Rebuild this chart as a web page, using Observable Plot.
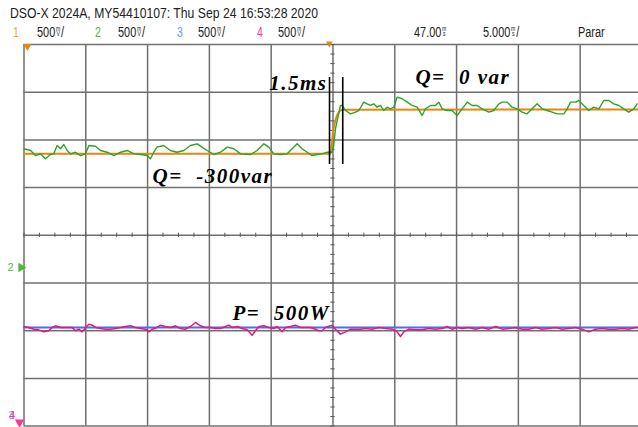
<!DOCTYPE html>
<html><head><meta charset="utf-8">
<script src="https://cdn.jsdelivr.net/npm/d3@7"></script>
<script src="https://cdn.jsdelivr.net/npm/@observablehq/plot@0.6"></script>
<style>
body{margin:0;background:#fff;width:638px;height:427px;overflow:hidden;font-family:"Liberation Sans",Arial,sans-serif;}
#hdr{position:relative;height:40px;width:638px;}
#hdr span.t{position:absolute;white-space:pre;transform-origin:0 0;line-height:1;color:#222;}
.u{display:inline-block;font-size:6.5px;line-height:5.5px;text-align:center;vertical-align:1px;margin:0 1px;}
#chart{display:block;}
</style></head><body>
<div id="hdr"></div>
<div id="chart"></div>
<script>
// ---- header texts ----
const titleText = "DSO-X 2024A, MY54410107: Thu Sep 24 16:53:28 2020";
const channelNames = ["1", "2", "3", "4"];
const channelScales = ["500", "500", "500", "500"];
const channelUnits = [["m", "V"], ["m", "V"], ["m", "V"], ["m", "V"]];
const timeDelay = "47.00";
const timeScale = "5.000";
const runState = "Parar";

// ---- graticule (5 ms/div, 500 mV/div) ----
const timeGrid = [0, 5, 10, 15, 20, 25, 30, 35, 40, 45];
const voltGrid = [-2, -1.5, -1, -0.5, 0, 0.5, 1, 1.5, 2];
const minorTimeTicks = d3.range(0, 49.7, 1.25);
const minorVoltTicks = d3.range(-2, 2.001, 0.1);

// ---- channel 1 (orange, Q reference) ----
const ch1Time = [0, 24.8, 25.02, 25.24, 25.47, 25.77, 49.72];
const ch1Volt = [0.854, 0.854, 1.099, 1.224, 1.29, 1.315, 1.319];

// ---- channel 2 (green, measured Q) ----
const ch2Time = [0, 0.53, 0.93, 1.33, 1.74, 2.14, 2.41, 2.68, 2.95, 3.22, 3.49, 3.76, 4.17, 4.57, 4.98, 5.25, 5.79, 6.19, 6.73, 7.27, 7.81, 8.35, 8.89, 9.43, 9.96, 10.23, 10.5, 10.76, 11.3, 11.84, 12.38, 12.93, 13.47, 14.01, 14.41, 14.82, 15.36, 15.9, 16.44, 16.98, 17.52, 18.33, 18.87, 19.41, 19.81, 20.21, 20.75, 21.29, 21.7, 22.1, 22.5, 22.91, 23.31, 23.72, 24.12, 24.53, 24.93, 25.05, 25.2, 25.61, 25.74, 26.01, 26.42, 26.82, 27.09, 27.49, 27.76, 28.03, 28.3, 28.57, 28.84, 29.11, 29.38, 29.65, 29.92, 30.19, 30.6, 31.0, 31.41, 31.81, 32.21, 32.48, 32.89, 33.29, 33.56, 33.83, 34.24, 34.64, 35.05, 35.45, 35.86, 36.26, 36.66, 37.07, 37.61, 38.01, 38.42, 38.69, 39.09, 39.5, 39.9, 40.31, 40.71, 41.11, 41.52, 41.92, 42.33, 42.73, 43.14, 43.68, 43.95, 44.22, 44.62, 44.89, 45.29, 45.7, 46.1, 46.51, 46.91, 47.32, 47.72, 48.13, 48.53, 48.93, 49.34, 49.61];
const ch2Volt = [0.907, 0.889, 0.836, 0.854, 0.802, 0.847, 0.854, 0.941, 0.907, 0.952, 0.889, 0.854, 0.871, 0.836, 0.854, 0.941, 0.934, 0.889, 0.871, 0.836, 0.871, 0.889, 0.854, 0.847, 0.836, 0.802, 0.871, 0.924, 0.941, 0.889, 0.871, 0.889, 0.941, 0.959, 0.924, 0.889, 0.847, 0.871, 0.924, 0.907, 0.854, 0.847, 0.889, 0.959, 0.924, 0.854, 0.847, 0.854, 0.907, 0.959, 0.907, 0.871, 0.836, 0.847, 0.854, 0.871, 0.871, 0.93, 1.116, 1.361, 1.361, 1.308, 1.273, 1.291, 1.308, 1.396, 1.378, 1.361, 1.378, 1.343, 1.361, 1.308, 1.343, 1.326, 1.343, 1.448, 1.431, 1.396, 1.361, 1.343, 1.256, 1.326, 1.361, 1.361, 1.396, 1.326, 1.308, 1.308, 1.256, 1.326, 1.396, 1.361, 1.361, 1.326, 1.291, 1.308, 1.378, 1.396, 1.396, 1.343, 1.326, 1.291, 1.273, 1.326, 1.378, 1.326, 1.308, 1.291, 1.273, 1.273, 1.326, 1.396, 1.396, 1.413, 1.361, 1.308, 1.343, 1.326, 1.413, 1.413, 1.378, 1.361, 1.326, 1.291, 1.326, 1.378];

// ---- channel 3 (blue, P reference) ----
const ch3Time = [0, 49.72];
const ch3Volt = [-0.966, -0.966];

// ---- channel 4 (pink, measured P) ----
const ch4Time = [0, 0.39, 0.8, 1.2, 1.6, 2.01, 2.28, 2.55, 2.95, 3.49, 3.9, 4.17, 4.44, 4.71, 4.98, 5.25, 5.52, 5.79, 6.19, 6.6, 7.0, 7.4, 7.81, 8.21, 8.62, 9.02, 9.43, 9.83, 10.1, 10.37, 10.77, 11.04, 11.45, 11.85, 12.26, 12.66, 13.07, 13.47, 13.88, 14.28, 14.69, 15.09, 15.49, 15.9, 16.3, 16.57, 16.84, 17.25, 17.65, 18.06, 18.46, 18.73, 19.0, 19.4, 19.81, 20.21, 20.48, 20.89, 21.16, 21.56, 21.97, 22.37, 22.77, 23.18, 23.58, 23.85, 24.12, 24.39, 24.8, 24.93, 25.2, 25.61, 26.01, 26.42, 26.82, 27.22, 27.63, 28.17, 28.71, 29.25, 29.79, 30.19, 30.46, 30.73, 31.14, 31.68, 32.21, 32.75, 33.29, 33.83, 34.24, 34.64, 35.05, 35.45, 35.99, 36.53, 37.07, 37.61, 38.15, 38.69, 39.23, 39.77, 40.31, 40.85, 41.39, 41.92, 42.46, 43.0, 43.54, 44.08, 44.62, 45.16, 45.7, 46.24, 46.78, 47.32, 47.86, 48.4, 48.93, 49.47, 49.72];
const ch4Volt = [-0.956, -0.966, -0.984, -0.991, -1.012, -1.001, -0.966, -0.949, -0.966, -0.966, -0.966, -1.001, -0.984, -1.012, -0.966, -0.932, -0.942, -0.966, -0.977, -0.984, -0.984, -0.977, -0.966, -0.956, -0.949, -0.966, -0.977, -0.984, -1.012, -0.984, -0.966, -0.942, -0.956, -0.966, -0.949, -0.977, -0.984, -0.956, -0.914, -0.949, -0.966, -0.966, -0.977, -0.977, -0.956, -0.942, -0.966, -0.956, -0.977, -0.991, -1.047, -1.001, -0.956, -0.949, -0.966, -0.977, -0.956, -1.012, -0.966, -0.956, -0.942, -0.966, -0.966, -0.966, -0.984, -1.001, -1.001, -0.966, -0.949, -0.942, -0.984, -1.036, -1.012, -0.984, -0.984, -0.984, -0.977, -0.984, -0.966, -0.977, -0.984, -1.012, -1.061, -1.012, -0.984, -0.991, -0.991, -0.977, -0.984, -0.977, -0.956, -0.984, -0.966, -0.977, -0.966, -0.984, -0.966, -0.984, -0.956, -0.984, -0.977, -0.966, -0.984, -0.984, -0.966, -0.984, -0.977, -0.966, -0.984, -0.977, -0.966, -0.984, -1.012, -0.984, -0.977, -0.984, -0.984, -0.977, -0.984, -0.966, -0.966];

// ---- annotations ----
const noteTexts = ["1.5ms", "Q=\u00a0\u00a00\u00a0var", "Q=\u00a0\u00a0-300var", "P=\u00a0\u00a0500W"];
const noteTime = [24.56, 31.67, 10.4, 16.87];
const noteVolt = [1.59, 1.654, 0.616, -0.82];
const noteAnchor = ["end", "start", "start", "start"];
const cursorTime = [24.72, 25.79];
const cursorVolt = [0.742, 1.654];

// ---- channel markers on the left edge ----
const markerNames = ["3", "4", "2"];
const markerTime = [-1.0, -0.97, -1.09];
const markerVolt = [-1.885, -1.89, -0.338];

const colors = {c1: "#e8870c", c2: "#2aa52a", c3: "#4a6cf0", c4: "#e8177d",
  h1: "#f7a23b", h2: "#4cbb3c", h3: "#7b96e8", h4: "#ff3399"};

// ---------- header ----------
const hdr = document.getElementById("hdr");
function span(x, y, size, color, html, sx) {
  const s = document.createElement("span");
  s.className = "t";
  s.style.left = x + "px"; s.style.top = y + "px";
  s.style.fontSize = size + "px"; s.style.color = color;
  s.innerHTML = html;
  hdr.appendChild(s);
  s.style.transform = `scaleX(${sx})`;
  return s;
}
const unitHtml = (a, b) => `<span class="u">${a}<br>${b}</span>`;
const t1 = span(10, 5, 15, "#222", titleText, 1);
t1.style.transform = `scaleX(${308 / t1.getBoundingClientRect().width})`;
const hc = [colors.h1, colors.h2, colors.h3, colors.h4];
const nameX = [13, 95, 177, 257], scaleX = [37, 118, 198, 278];
channelNames.forEach((n, i) => {
  span(nameX[i], 25, 14, hc[i], n, 0.75);
  span(scaleX[i], 25, 14, "#222", channelScales[i] + unitHtml(channelUnits[i][0], channelUnits[i][1]) + "/", 0.78);
});
span(414, 25, 14, "#222", timeDelay + unitHtml("m", "s"), 0.78);
span(483, 25, 14, "#222", timeScale + unitHtml("m", "s") + "/", 0.78);
span(578, 25, 14, "#222", runState, 0.78);

// ---------- chart ----------
const ch1 = ch1Time.map((t, i) => ({t, v: ch1Volt[i]}));
const ch2 = ch2Time.map((t, i) => ({t, v: ch2Volt[i]}));
const ch3 = ch3Time.map((t, i) => ({t, v: ch3Volt[i]}));
const ch4 = ch4Time.map((t, i) => ({t, v: ch4Volt[i]}));
const notes = noteTexts.map((text, i) => ({text, t: noteTime[i], v: noteVolt[i], a: noteAnchor[i]}));
const markers = markerNames.map((n, i) => ({n, t: markerTime[i], v: markerVolt[i]}));
const mColor = {"2": colors.h2, "3": colors.h3, "4": colors.h4};
const centerT = 25;
const noteStyle = {x: "t", y: "v", text: "text", fontFamily: "Liberation Serif", fontStyle: "italic", fontWeight: "bold", fontSize: 21, fill: "#000"};

const plot = Plot.plot({
  width: 638, height: 387,
  marginLeft: 23.5, marginRight: 0, marginTop: 4, marginBottom: 1.4,
  x: {domain: [0, 49.72], axis: null},
  y: {domain: [-2, 2], axis: null},
  marks: [
    Plot.ruleX(timeGrid, {stroke: "#707070", strokeWidth: 1.5}),
    Plot.ruleY(voltGrid, {stroke: "#707070", strokeWidth: 1.5}),
    Plot.ruleY(minorVoltTicks, {x1: centerT - 0.17, x2: centerT + 0.17, stroke: "#555", strokeWidth: 1}),
    Plot.ruleX(minorTimeTicks, {y1: -0.022, y2: 0.022, stroke: "#555", strokeWidth: 1}),
    Plot.line(ch3, {x: "t", y: "v", stroke: colors.c3, strokeWidth: 2}),
    Plot.line(ch4, {x: "t", y: "v", stroke: colors.c4, strokeWidth: 1.5}),
    Plot.line(ch1, {x: "t", y: "v", stroke: colors.c1, strokeWidth: 2, curve: "monotone-x"}),
    Plot.line(ch2, {x: "t", y: "v", stroke: colors.c2, strokeWidth: 1.4}),
    Plot.ruleX(cursorTime, {y1: cursorVolt[0], y2: cursorVolt[1], stroke: "#000", strokeWidth: 1.6}),
    Plot.text(notes.filter(d => d.a === "end"), {...noteStyle, textAnchor: "end"}),
    Plot.text(notes.filter(d => d.a === "start"), {...noteStyle, textAnchor: "start"}),
    Plot.text(markers, {x: "t", y: "v", text: "n", fill: d => mColor[d.n], fontFamily: "Liberation Sans", fontSize: 11}),
    Plot.dot([markerVolt[2]], {x: -0.24, y: d => d, symbol: "triangle", rotate: 90, r: 3.5, fill: colors.h2}),
    Plot.dot([markerVolt[1]], {x: -0.36, y: d => d - 0.07, symbol: "triangle", rotate: 180, r: 3.5, fill: colors.h4}),
    Plot.dot([voltGrid[8]], {x: 0.28, y: d => d - 0.02, symbol: "triangle", rotate: 180, r: 3, fill: colors.c1}),
    Plot.dot([voltGrid[8]], {x: centerT - 0.3, y: d => d + 0.01, symbol: "triangle", rotate: 180, r: 2.5, fill: colors.c1})
  ]
});
d3.select(plot).selectAll("text").filter(function() { return this.textContent.length > 1; }).attr("letter-spacing", 1.5);
d3.select(plot).style("overflow", "visible");
document.getElementById("chart").appendChild(plot);
</script>
</body></html>
